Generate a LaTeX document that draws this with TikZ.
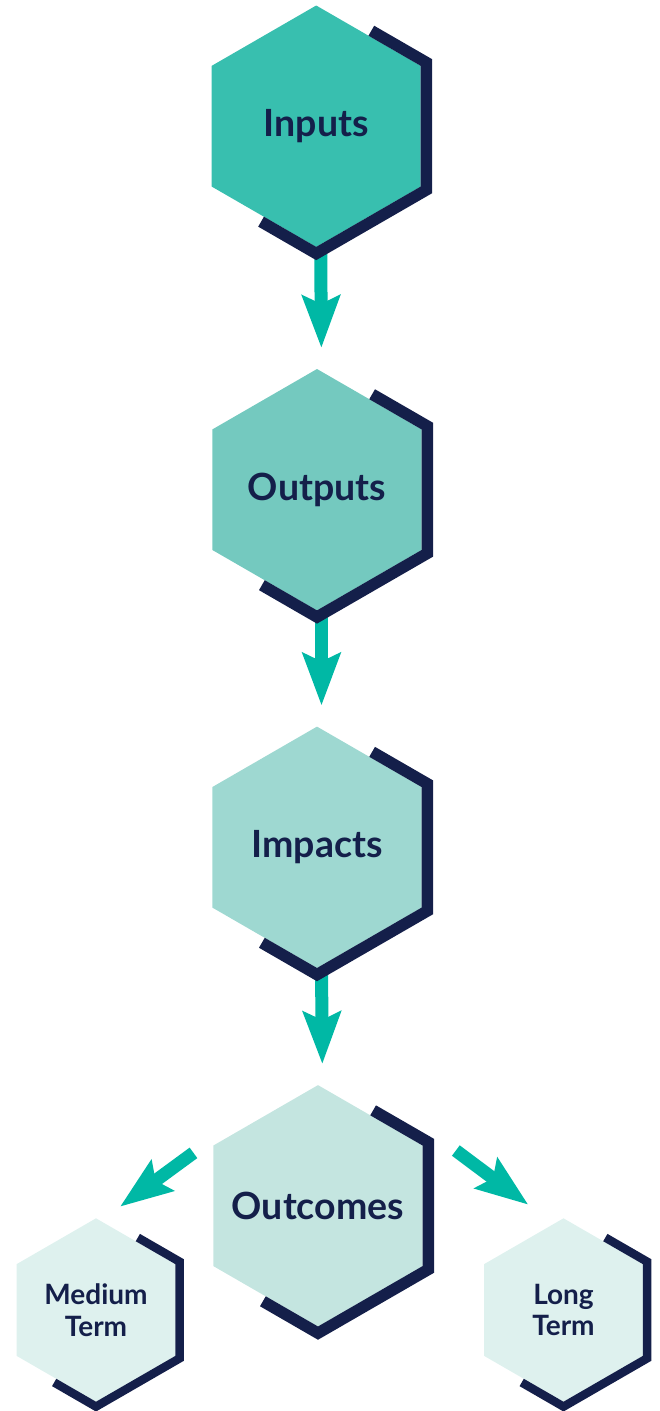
\documentclass[tikz,border=0pt]{standalone}
\usepackage{fontspec}
\setmainfont{Lato}
\usepackage{tikz}
\usetikzlibrary{shapes.geometric}
\usetikzlibrary{arrows.meta}
\usetikzlibrary{calc}
\usepackage{xcolor}
\definecolor{navy}{HTML}{141F4A}
\definecolor{arrowteal}{HTML}{00B8A5}
\definecolor{inputfill}{HTML}{38BFAF}
\definecolor{outputfill}{HTML}{74C9BF}
\definecolor{impactfill}{HTML}{9ED8D1}
\definecolor{outcomefill}{HTML}{C4E5E0}
\definecolor{termfill}{HTML}{DEF1EE}

\begin{document}
\begin{tikzpicture}[x=1pt,y=1pt,
hex/.style={regular polygon,regular polygon sides=6,shape border rotate=30,
  inner sep=0pt,outer sep=0pt,minimum size=241.4pt},
small hex/.style={hex,minimum size=183.4pt},
hex text/.style={text=navy,font=\bfseries\fontsize{37.5}{40}\selectfont},
small text/.style={text=navy,align=center,
  font=\bfseries\fontsize{28}{31.5}\selectfont},
flow/.style={draw=arrowteal,line width=13pt,
  -{Stealth[length=52pt,width=37pt,inset=8pt]}},
band/.style={draw=navy,line join=miter,line cap=butt}]
\useasboundingbox (0,0) rectangle (660,-1411);

\node[hex,fill=inputfill,label={[hex text]center:Inputs}] (inp) at (316.2,-126.2) {};
\node[hex,fill=outputfill,label={[hex text]center:Outputs}] (outp) at (317,-489.7) {};
\node[hex,fill=impactfill,label={[hex text]center:Impacts}] (imp) at (317,-847.3) {};
\node[hex,fill=outcomefill,label={[hex text]center:Outcomes}] (outc) at (318,-1205.8) {};
\node[small hex,fill=termfill,label={[small text]center:Medium\\Term}] (med) at (96,-1310) {};
\node[small hex,fill=termfill,label={[small text]center:Long\\Term}] (long) at (563.5,-1310) {};

% arrows down the chain
\draw[flow,shorten >=21pt] ([xshift=4.5pt]inp.-90) -- ([xshift=4.5pt]outp.90);
\draw[flow,shorten >=21pt] ([xshift=4.5pt]outp.-90) -- ([xshift=4.5pt]imp.90);
\draw[flow,shorten >=21pt] ([xshift=4.5pt]imp.-90) -- ([xshift=4.5pt]outc.90);
\draw[flow] ([shift={(-20,-7.4)}]outc.150) -- ([shift={(24,11.6)}]med.90);
\draw[flow] ([shift={(33.3,-5.1)}]outc.30) -- ([shift={(-35.2,13.6)}]long.90);

% dark edge on the right of each hexagon
\foreach \n/\r/\w in {inp/127.3/11.5,outp/127.3/11.5,imp/127.3/11.5,
  outc/127.3/11.5,med/96.6/8.5,long/96.6/8.5}
  \draw[band,line width=\w pt] ($(\n.center)+(60:{0.866*\r})$)
    -- ($(\n.center)+(30:\r)$) -- ($(\n.center)+(-30:\r)$)
    -- ($(\n.center)+(-90:\r)$) -- ($(\n.center)+(-120:{0.866*\r})$);
\end{tikzpicture}
\end{document}
